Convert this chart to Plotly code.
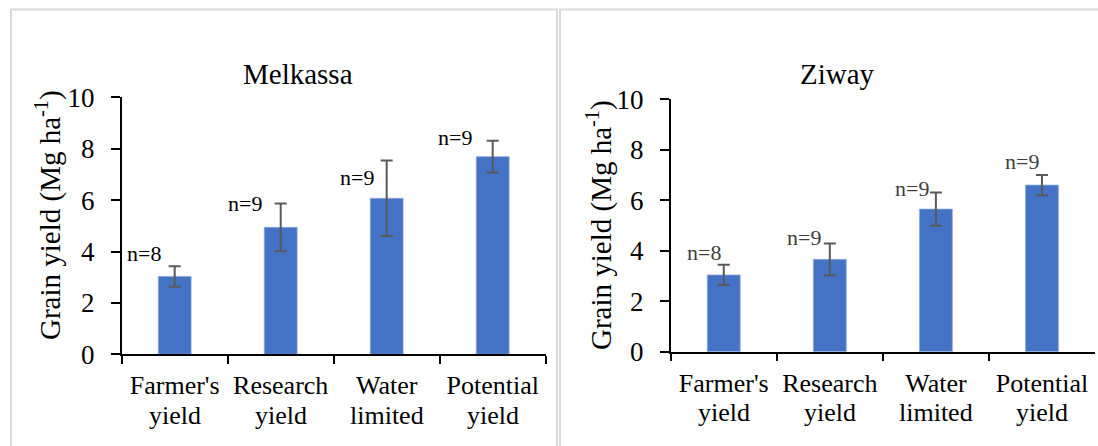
import plotly.graph_objects as go

W, H = 1098, 446

categories = ["Farmer's yield", "Research yield", "Water limited", "Potential yield"]
melkassa_mean = [3.03, 4.94, 6.07, 7.69]
melkassa_err = [0.40, 0.93, 1.47, 0.62]
melkassa_n = ["n=8", "n=9", "n=9", "n=9"]
ziway_mean = [3.04, 3.66, 5.65, 6.60]
ziway_err = [0.40, 0.63, 0.66, 0.40]
ziway_n = ["n=8", "n=9", "n=9", "n=9"]
y_ticks = [0, 2, 4, 6, 8, 10]

FONT = "Liberation Serif"
BAR = "#4472C4"
ERR = "#595959"
GRID_BORDER = "#D9D9D9"

# label pixel offsets from top of error bar (layout only)
mel_shift = [(-31, 13), (-36, 0), (-30, -17), (-38, 3)]
ziw_shift = [(-20, 12), (-26, 6), (-24, 4), (-20, 14)]

line1 = [c.split(" ", 1)[0] for c in categories]
line2 = [c.split(" ", 1)[1] for c in categories]

def px(x):
    return x / W

def py(y):
    return 1 - y / H

fig = go.Figure()

fig.add_trace(go.Bar(
    x=categories, y=melkassa_mean, width=0.31,
    marker=dict(color=BAR, line=dict(color="#8FAADC", width=0.8)),
    error_y=dict(type="data", array=melkassa_err, color=ERR, thickness=2, width=6),
    xaxis="x", yaxis="y", showlegend=False, hoverinfo="skip"))
fig.add_trace(go.Bar(
    x=categories, y=ziway_mean, width=0.31,
    marker=dict(color=BAR, line=dict(color="#8FAADC", width=0.8)),
    error_y=dict(type="data", array=ziway_err, color=ERR, thickness=2, width=6),
    xaxis="x2", yaxis="y2", showlegend=False, hoverinfo="skip"))

xcommon = dict(
    type="category", categoryorder="array", categoryarray=categories,
    tickmode="array", tickvals=categories, ticktext=line1,
    tickson="boundaries", tickangle=0,
    range=[-0.5, 3.5], showgrid=False, zeroline=False,
    showline=True, linecolor="black", linewidth=1.5,
    ticks="outside", ticklen=8, tickwidth=1.5, tickcolor="black",
    tickfont=dict(family=FONT, size=26, color="black"), ticklabelstandoff=7,
    automargin=False, fixedrange=True,
)
ycommon = dict(
    range=[0, 10], tickmode="array", tickvals=y_ticks,
    showgrid=False, zeroline=False,
    showline=True, linecolor="black", linewidth=1.5,
    ticks="outside", ticklen=9, tickwidth=1.5, tickcolor="black",
    tickfont=dict(family=FONT, size=27, color="black"),
    ticklabelstandoff=11,
    automargin=False, fixedrange=True,
)

annotations = []
for i, c in enumerate(categories):
    dx, dy = mel_shift[i]
    annotations.append(dict(x=c, y=melkassa_mean[i] + melkassa_err[i], xref="x", yref="y",
                            text=melkassa_n[i], showarrow=False, xshift=dx, yshift=dy,
                            xanchor="center", yanchor="middle",
                            font=dict(family=FONT, size=22, color="black")))
    dx, dy = ziw_shift[i]
    annotations.append(dict(x=c, y=ziway_mean[i] + ziway_err[i], xref="x2", yref="y2",
                            text=ziway_n[i], showarrow=False, xshift=dx, yshift=dy,
                            xanchor="center", yanchor="middle",
                            font=dict(family=FONT, size=22, color="#404040")))
    for xr, yr in (("x", "y"), ("x2", "y2")):
        annotations.append(dict(x=c, y=0, xref=xr, yref=yr, text=line2[i], showarrow=False,
                                yshift=-61, xanchor="center", yanchor="middle",
                                font=dict(family=FONT, size=26, color="black")))

annotations += [
    dict(x=px(298), y=py(74), xref="paper", yref="paper", text="Melkassa", showarrow=False,
         xanchor="center", yanchor="middle", font=dict(family=FONT, size=29, color="black")),
    dict(x=px(837), y=py(74), xref="paper", yref="paper", text="Ziway", showarrow=False,
         xanchor="center", yanchor="middle", font=dict(family=FONT, size=29, color="black")),
    dict(x=px(49), y=py(215), xref="paper", yref="paper", text="Grain yield (Mg ha<sup>-1</sup>)",
         showarrow=False, textangle=-90, xanchor="center", yanchor="middle",
         font=dict(family=FONT, size=29, color="black")),
    dict(x=px(599), y=py(225), xref="paper", yref="paper", text="Grain yield (Mg ha<sup>-1</sup>)",
         showarrow=False, textangle=-90, xanchor="center", yanchor="middle",
         font=dict(family=FONT, size=29, color="black")),
]

line = dict(color=GRID_BORDER, width=2)
shapes = [
    dict(type="line", xref="paper", yref="paper", x0=px(11), x1=px(11), y0=py(9.5), y1=py(446), line=line),
    dict(type="line", xref="paper", yref="paper", x0=px(10), x1=px(558), y0=py(9.5), y1=py(9.5), line=line),
    dict(type="line", xref="paper", yref="paper", x0=px(557), x1=px(557), y0=py(9.5), y1=py(446), line=line),
    dict(type="line", xref="paper", yref="paper", x0=px(560), x1=px(560), y0=py(9.5), y1=py(446), line=line),
    dict(type="line", xref="paper", yref="paper", x0=px(559), x1=px(1098), y0=py(9.5), y1=py(9.5), line=line),
]

fig.update_layout(
    width=W, height=H,
    margin=dict(l=0, r=0, t=0, b=0, autoexpand=False),
    paper_bgcolor="white", plot_bgcolor="white",
    font=dict(family=FONT),
    xaxis=dict(domain=[px(121.7), px(545.7)], anchor="y", **xcommon),
    yaxis=dict(domain=[py(354.3), py(97.3)], anchor="x", **ycommon),
    xaxis2=dict(domain=[px(670.7), px(1095)], anchor="y2", **xcommon),
    yaxis2=dict(domain=[py(351.7), py(99.3)], anchor="x2", **ycommon),
    annotations=annotations,
    shapes=shapes,
)

fig.write_html("out.html")
